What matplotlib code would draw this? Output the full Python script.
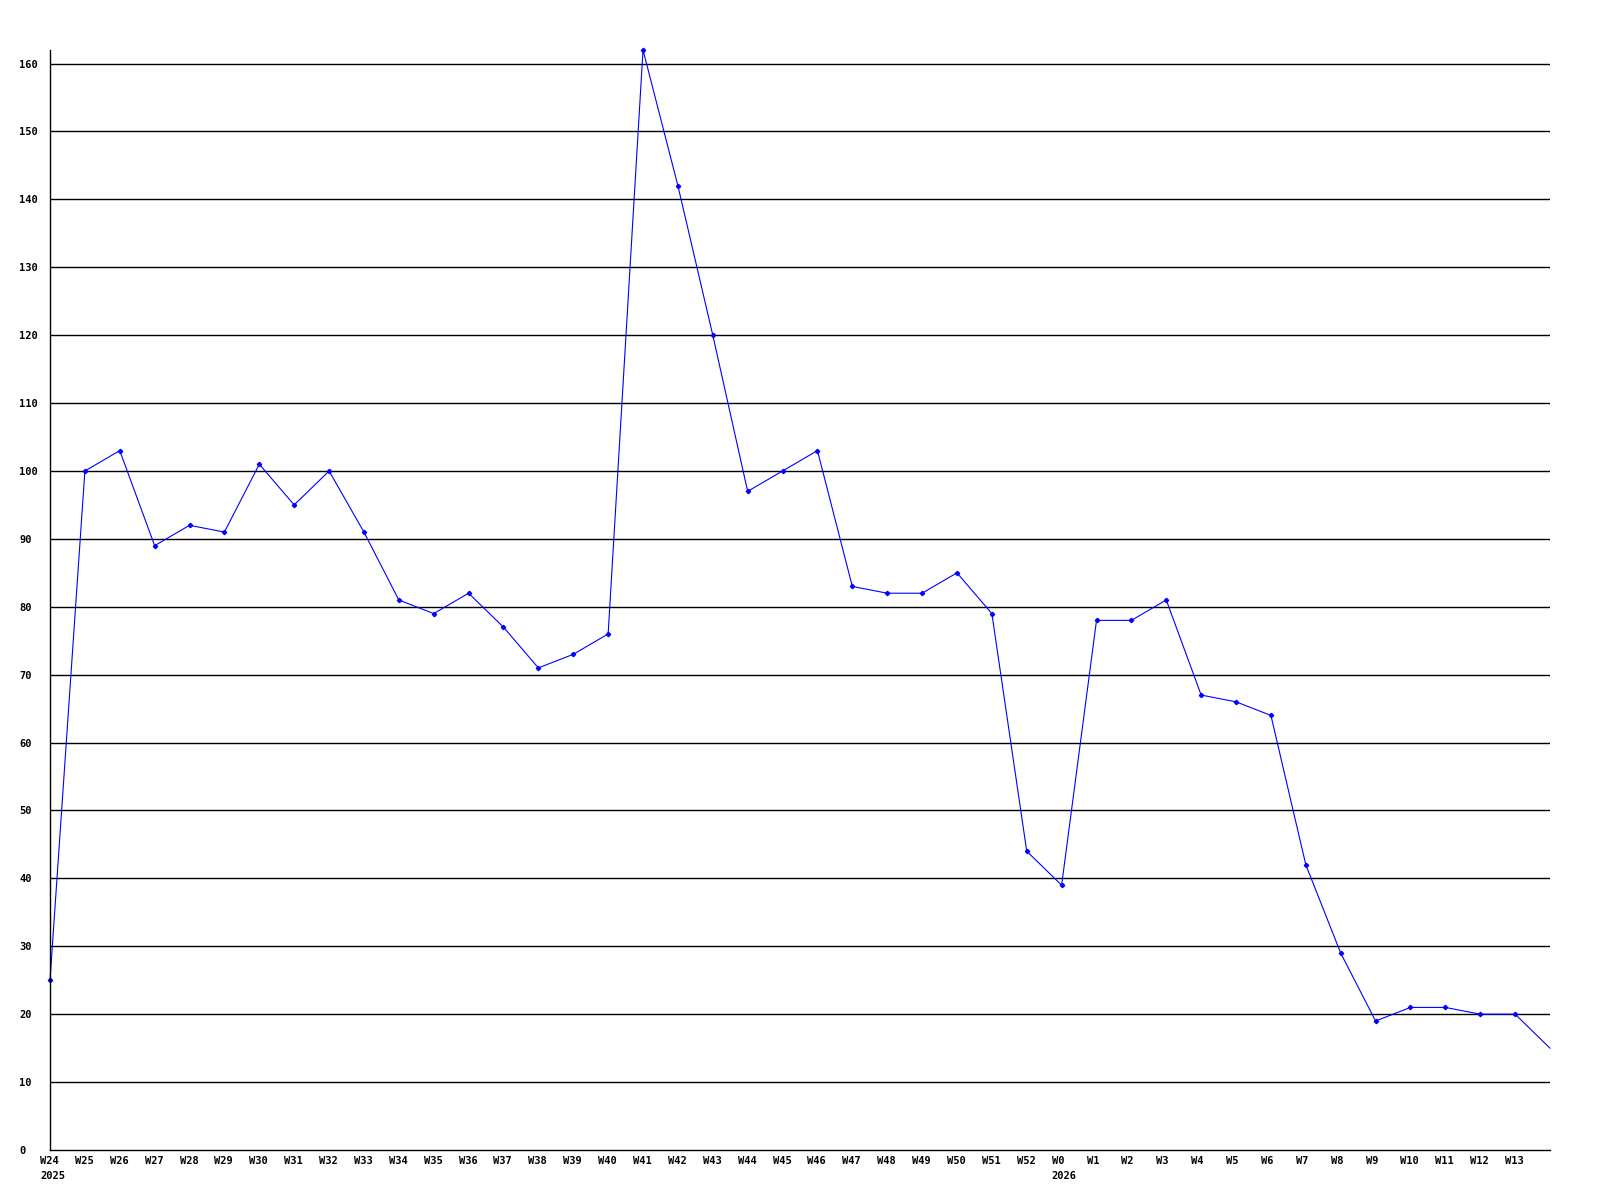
import matplotlib
matplotlib.use("Agg")
import matplotlib.pyplot as plt
from matplotlib.transforms import ScaledTranslation

# ---- weekly counts ----
WEEKS = ["W24", "W25", "W26", "W27", "W28", "W29", "W30", "W31", "W32", "W33",
         "W34", "W35", "W36", "W37", "W38", "W39", "W40", "W41", "W42", "W43",
         "W44", "W45", "W46", "W47", "W48", "W49", "W50", "W51", "W52", "W0",
         "W1", "W2", "W3", "W4", "W5", "W6", "W7", "W8", "W9", "W10",
         "W11", "W12", "W13", ""]
YEARS = {"W24": "2025", "W0": "2026"}
VALUES = [25, 100, 103, 89, 92, 91, 101, 95, 100, 91,
          81, 79, 82, 77, 71, 73, 76, 162, 142, 120,
          97, 100, 103, 83, 82, 82, 85, 79, 44, 39,
          78, 78, 81, 67, 66, 64, 42, 29, 19, 21,
          21, 20, 20, 15]
YTICKS = list(range(0, 161, 10))

FONT = dict(family="DejaVu Sans Mono", weight="bold", size=7.5)


def main():
    fig = plt.figure(figsize=(16, 12), dpi=100)
    ax = fig.add_axes([50 / 1600, 50 / 1200, 1500 / 1600, 1100 / 1200])

    x = list(range(len(VALUES)))
    # last point runs off the right edge, drawn without a marker
    ax.plot(x, VALUES, color="#0000ff", lw=0.8, marker="D", ms=2.2,
            mec="#0000ff", mfc="#0000ff", markevery=list(range(len(VALUES) - 1)),
            clip_on=False)

    ax.set_xlim(0, len(VALUES) - 1)
    ax.set_ylim(0, 162)

    for v in YTICKS[1:]:
        ax.axhline(v, color="black", lw=1.0, zorder=0)

    for s in ("top", "right"):
        ax.spines[s].set_visible(False)
    for s in ("left", "bottom"):
        ax.spines[s].set_linewidth(1.0)

    ax.set_yticks(YTICKS)
    ax.set_yticklabels([str(v) for v in YTICKS], **FONT)
    ax.tick_params(axis="y", length=0, pad=22.3)
    for lab in ax.get_yticklabels():
        lab.set_horizontalalignment("left")

    labels = [w + ("\n" + YEARS[w] if w in YEARS else "") for w in WEEKS]
    ax.set_xticks(x)
    ax.set_xticklabels(labels, **FONT)
    ax.tick_params(axis="x", length=0, pad=4)
    shift = ScaledTranslation(-10 / 100, 0, fig.dpi_scale_trans)
    for lab in ax.get_xticklabels():
        lab.set_horizontalalignment("left")
        lab.set_multialignment("left")
        lab.set_linespacing(1.65)
        lab.set_transform(lab.get_transform() + shift)

    fig.savefig("out.png", dpi=100)


if __name__ == "__main__":
    main()
